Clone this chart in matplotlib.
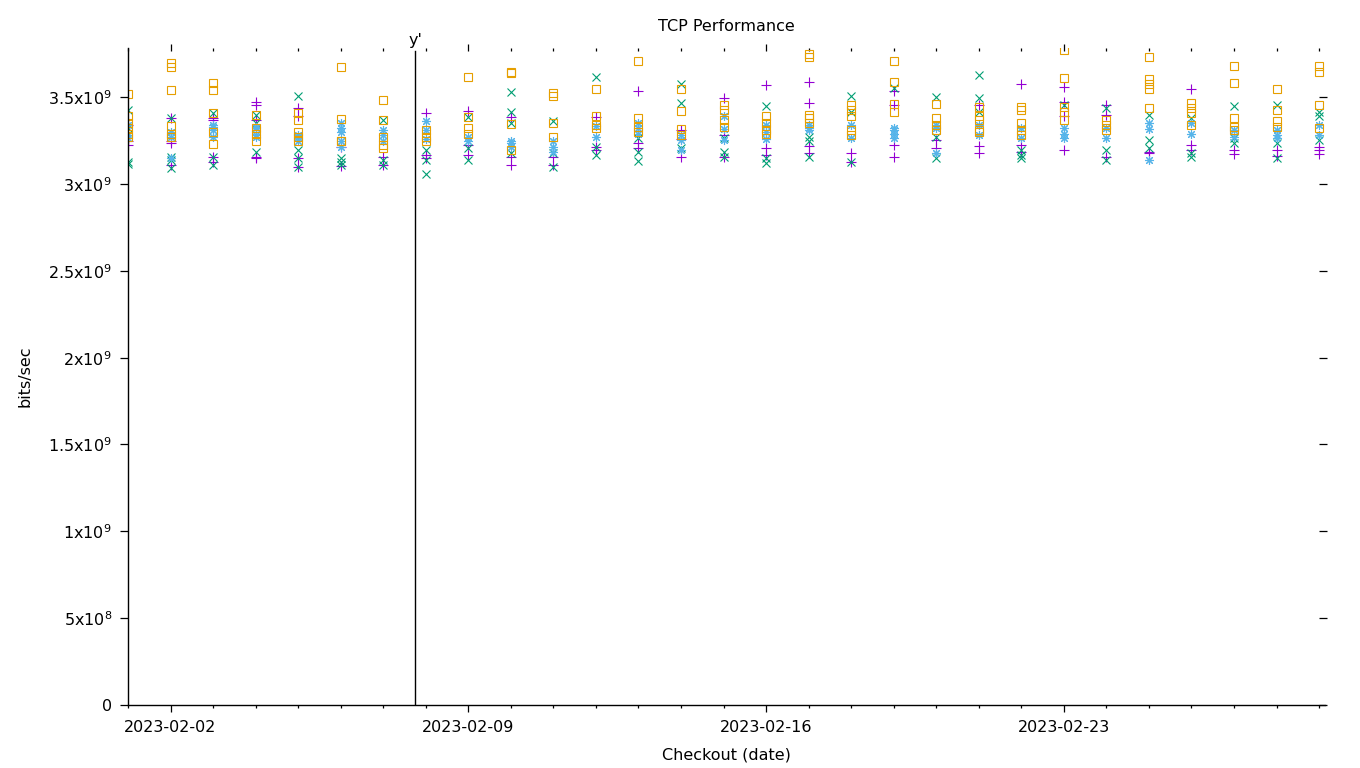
import numpy as np
import matplotlib
matplotlib.use('Agg')
import matplotlib.pyplot as plt
import matplotlib.dates as mdates
import matplotlib.ticker as mticker

# one column of points per checkout day, values in 1e9 bits/sec
days = np.arange('2023-02-01', '2023-03-02', dtype='datetime64[D]')

purple_vals = [
    [3.34, 3.25, 3.225], [3.38, 3.25, 3.236, 3.11], [3.38, 3.37, 3.157, 3.128],
    [3.47, 3.455, 3.37, 3.155, 3.15], [3.437, 3.39, 3.15, 3.10], [3.215, 3.104],
    [3.157, 3.11], [3.407, 3.167, 3.148], [3.42, 3.225, 3.167], [3.384, 3.157, 3.11],
    [3.153, 3.11], [3.384, 3.215, 3.196], [3.533, 3.235, 3.205], [3.31, 3.257, 3.157],
    [3.493, 3.282, 3.157], [3.57, 3.205, 3.167], [3.585, 3.465, 3.219, 3.177],
    [3.177, 3.128], [3.537, 3.455, 3.225, 3.153], [3.253, 3.205], [3.455, 3.219, 3.177],
    [3.576, 3.225, 3.186], [3.557, 3.474, 3.39, 3.196], [3.455, 3.397, 3.157],
    [3.186, 3.177], [3.545, 3.225, 3.196], [3.196, 3.173], [3.196, 3.16],
    [3.215, 3.196, 3.173],
]
green_vals = [
    [3.426, 3.32, 3.127, 3.115], [3.38, 3.157, 3.14, 3.092], [3.41, 3.157, 3.11],
    [3.40, 3.35, 3.186], [3.507, 3.196, 3.15, 3.098], [3.15, 3.128, 3.11],
    [3.37, 3.138, 3.11], [3.196, 3.138, 3.058], [3.384, 3.205, 3.138],
    [3.53, 3.416, 3.35, 3.177], [3.36, 3.177, 3.10], [3.614, 3.215, 3.167],
    [3.263, 3.186, 3.134], [3.576, 3.468, 3.205], [3.263, 3.186, 3.157],
    [3.45, 3.148, 3.12], [3.272, 3.25, 3.153], [3.507, 3.416, 3.128], [3.55],
    [3.50, 3.272, 3.148], [3.627, 3.493, 3.416], [3.196, 3.167, 3.148], [3.455],
    [3.436, 3.196, 3.138], [3.397, 3.253, 3.205], [3.378, 3.177, 3.157],
    [3.45, 3.263, 3.235], [3.455, 3.235, 3.148], [3.416, 3.39, 3.253],
]
blue_vals = [
    [3.34, 3.28, 3.265], [3.30, 3.27, 3.15], [3.34, 3.33, 3.31, 3.27],
    [3.33, 3.32, 3.28, 3.27], [3.28, 3.27, 3.25], [3.35, 3.32, 3.30, 3.25, 3.215],
    [3.31, 3.28, 3.25], [3.36, 3.31, 3.257], [3.272, 3.25], [3.25, 3.235, 3.215],
    [3.245, 3.215, 3.186], [3.334, 3.272], [3.35, 3.32, 3.29], [3.282, 3.253, 3.196],
    [3.39, 3.315, 3.253], [3.34, 3.30, 3.257], [3.34, 3.32, 3.31], [3.34, 3.263],
    [3.32, 3.31, 3.29, 3.263], [3.34, 3.32, 3.177], [3.34, 3.282], [3.32, 3.263],
    [3.32, 3.29, 3.263], [3.32, 3.263], [3.35, 3.315, 3.138], [3.35, 3.29],
    [3.31, 3.272], [3.31, 3.282, 3.263], [3.34, 3.282],
]
orange_vals = [
    [3.518, 3.39, 3.35, 3.32, 3.29, 3.27], [3.695, 3.675, 3.54, 3.334, 3.288, 3.272],
    [3.58, 3.54, 3.41, 3.30, 3.23], [3.40, 3.32, 3.29, 3.25],
    [3.41, 3.37, 3.30, 3.272, 3.25], [3.672, 3.372, 3.25, 3.245],
    [3.484, 3.37, 3.272, 3.225, 3.21], [3.31, 3.272, 3.25], [3.614, 3.384, 3.32, 3.29],
    [3.646, 3.637, 3.345, 3.196], [3.522, 3.507, 3.353, 3.27], [3.545, 3.39, 3.34, 3.32],
    [3.706, 3.378, 3.33, 3.30], [3.545, 3.42, 3.315, 3.282], [3.455, 3.426, 3.37, 3.326],
    [3.39, 3.35, 3.31, 3.29], [3.748, 3.733, 3.40, 3.378, 3.35],
    [3.455, 3.426, 3.39, 3.31, 3.282], [3.706, 3.585, 3.46, 3.416],
    [3.46, 3.378, 3.34, 3.31], [3.445, 3.39, 3.37, 3.31, 3.30],
    [3.445, 3.426, 3.35, 3.31, 3.282], [3.77, 3.608, 3.445, 3.416, 3.37],
    [3.37, 3.34, 3.31], [3.73, 3.603, 3.576, 3.545, 3.44], [3.465, 3.436, 3.41, 3.34],
    [3.68, 3.58, 3.378, 3.33, 3.31], [3.545, 3.426, 3.365, 3.326],
    [3.68, 3.646, 3.455, 3.32],
]

ytick_vals = [0, 0.5e9, 1e9, 1.5e9, 2e9, 2.5e9, 3e9, 3.5e9]
ytick_labels = ['0', '5x10$^8$', '1x10$^9$', '1.5x10$^9$', '2x10$^9$',
                '2.5x10$^9$', '3x10$^9$', '3.5x10$^9$']
major_dates = np.array(['2023-02-02', '2023-02-09', '2023-02-16', '2023-02-23'],
                       dtype='datetime64[D]')
marker_line = np.datetime64('2023-02-07T18:00')

plt.rcParams['font.family'] = 'DejaVu Sans'
plt.rcParams['font.size'] = 11.5

fig = plt.figure(figsize=(13.6, 7.68), dpi=100)
ax = fig.add_axes([128/1360, 1-705/768, (1325-128)/1360, (705-48)/768])

series = [
    (purple_vals, '#9400d3', '+', 7.0),
    (green_vals, '#009e73', 'x', 6.0),
    (blue_vals, '#56b4e9', (8, 2, 0), 6.5),
    (orange_vals, '#e69f00', 's', 5.6),
]
for vals, col, mk, ms in series:
    xs, ys = [], []
    for d, vv in zip(days, vals):
        for v in vv:
            xs.append(d)
            ys.append(v * 1e9)
    ax.plot(np.array(xs, dtype='datetime64[D]'), ys, linestyle='none', marker=mk,
            ms=ms, mec=col, mfc='none', mew=0.8)

ax.axvline(marker_line, color='black', lw=1.0, ymax=0.995)
ax.text(mdates.date2num(marker_line), 1.0, "y'", transform=ax.get_xaxis_transform(),
        ha='center', va='bottom', fontsize=11.5)

x0 = mdates.date2num(np.datetime64('2023-02-01'))
x1 = mdates.date2num(np.datetime64('2023-03-01')) + 0.14
ax.set_xlim(x0, x1)
ax.set_ylim(0, 3.783e9)

ax.xaxis.set_major_locator(mticker.FixedLocator(mdates.date2num(major_dates)))
ax.xaxis.set_minor_locator(mdates.DayLocator())
ax.xaxis.set_major_formatter(mdates.DateFormatter('%Y-%m-%d'))
ax.set_yticks(ytick_vals)
ax.set_yticklabels(ytick_labels)

for s in ['top', 'right']:
    ax.spines[s].set_visible(False)
for s in ['left', 'bottom']:
    ax.spines[s].set_linewidth(1.0)
ax.tick_params(axis='x', which='major', direction='out', length=5, width=0.9, pad=6)
ax.tick_params(axis='x', which='minor', direction='out', length=2.5, width=0.9)
ax.tick_params(axis='y', which='major', direction='out', length=5.5, width=0.9, pad=6)

# mirrored tics on top and right, like gnuplot
top = ax.secondary_xaxis(0.9954)
top.xaxis.set_major_locator(mticker.FixedLocator(mdates.date2num(major_dates)))
top.xaxis.set_minor_locator(mdates.DayLocator())
top.tick_params(axis='x', which='major', direction='out', length=5, width=0.9,
                top=True, bottom=False, labeltop=False, labelbottom=False)
top.tick_params(axis='x', which='minor', direction='out', length=2.3, width=0.9,
                top=True, bottom=False)
top.xaxis.set_ticks_position('top')
top.set_xticklabels([])
for s in top.spines.values():
    s.set_visible(False)

right = ax.secondary_yaxis(0.995)
right.set_yticks(ytick_vals)
right.yaxis.set_ticks_position('right')
right.tick_params(axis='y', direction='out', length=5.8, width=0.9, labelright=False)
right.set_yticklabels([])
for s in right.spines.values():
    s.set_visible(False)

ax.set_title('TCP Performance', fontsize=11.5, pad=12)
ax.set_xlabel('Checkout (date)', fontsize=11.5, labelpad=9)
ax.set_ylabel('bits/sec', fontsize=11.5, labelpad=11)

fig.savefig('out.png', dpi=100)
